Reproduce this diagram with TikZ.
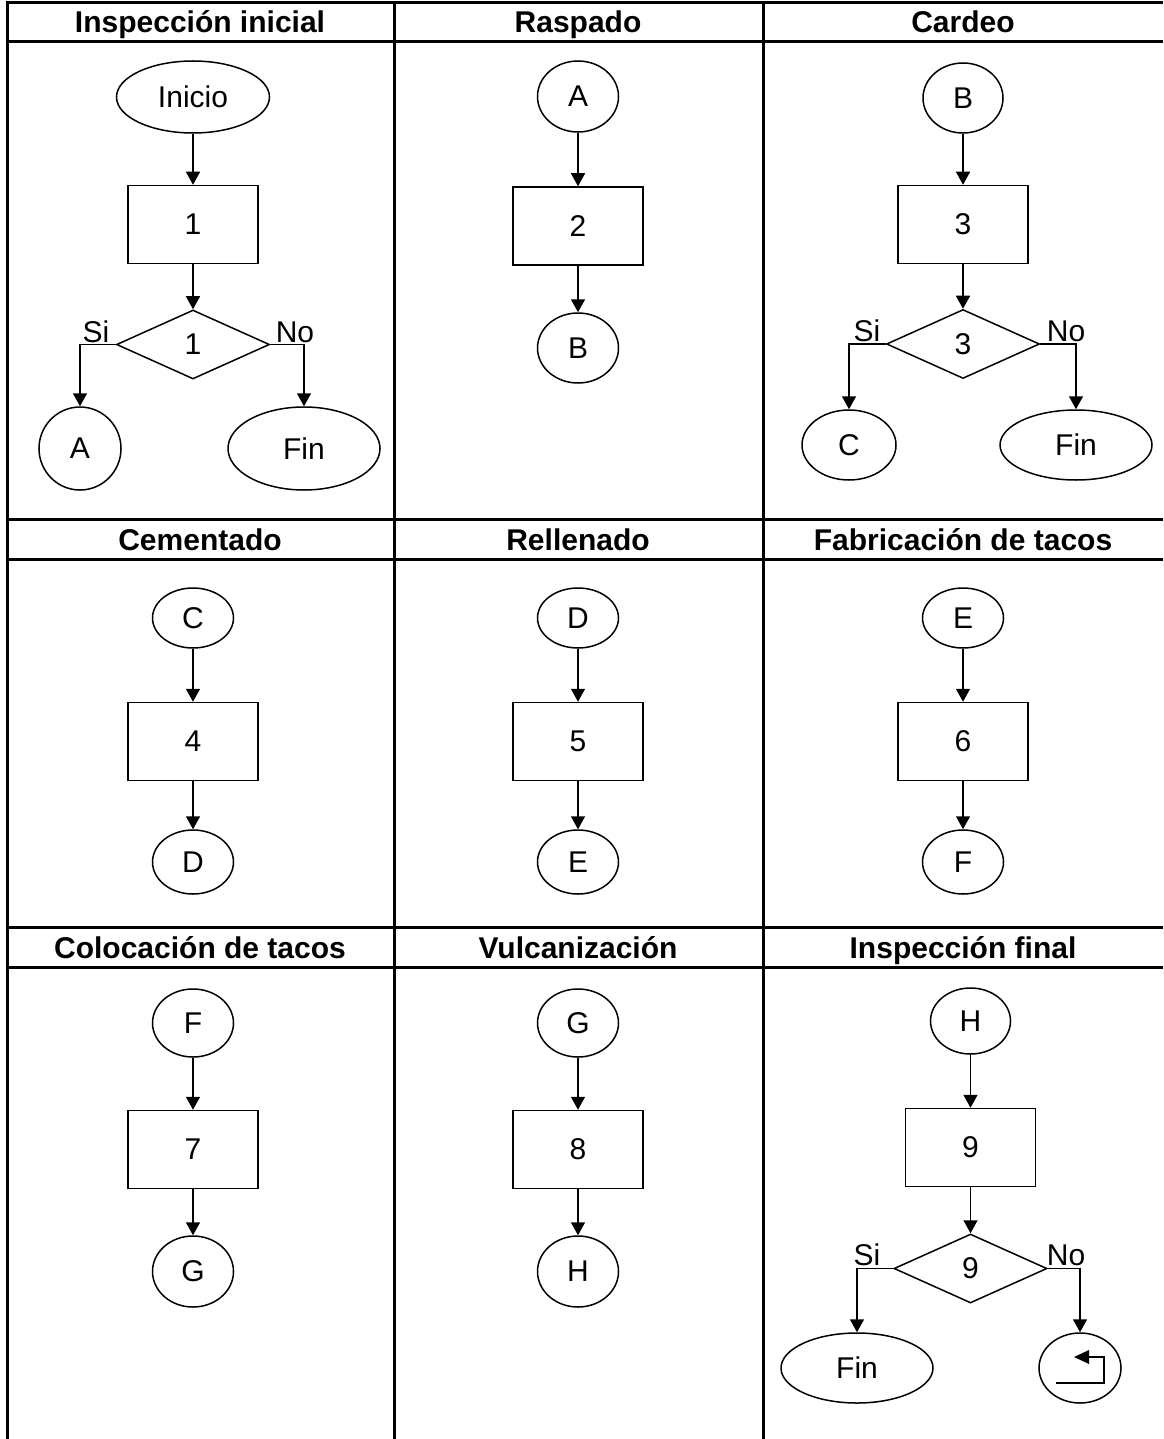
\documentclass[tikz,border=0pt]{standalone}
\usepackage{fontspec}
\setmainfont{Liberation Sans}
\usetikzlibrary{shapes.geometric,arrows.meta}
\begin{document}
\begin{tikzpicture}[x=1pt,y=-1pt,
  shp/.style={draw, line width=1.5pt, inner sep=0pt, font=\fontsize{30}{32}\selectfont},
  ell/.style 2 args={shp, ellipse, minimum width=#1pt, minimum height=#2pt},
  procbox/.style={shp, rectangle, minimum width=130pt, minimum height=78pt},
  dia/.style={shp, diamond, minimum width=153pt, minimum height=69pt},
  arr/.style={line width=1.5pt, -{Triangle[length=13pt,width=14pt]}},
  gridline/.style={line width=3pt},
  hdr/.style={font=\bfseries\fontsize{30}{32}\selectfont, anchor=base, inner sep=0pt},
  lbl/.style={font=\fontsize{30}{32}\selectfont, anchor=base, inner sep=0pt}]
\useasboundingbox (0,0) rectangle (1163,1439);
% grid
\draw[gridline] (7,3) -- (1163,3);
\draw[gridline] (7,42) -- (1163,42);
\draw[gridline] (7,519) -- (1163,519);
\draw[gridline] (7,559) -- (1163,559);
\draw[gridline] (7,927) -- (1163,927);
\draw[gridline] (7,967) -- (1163,967);
\draw[gridline] (7,1.5) -- (7,1439);
\draw[gridline] (394,1.5) -- (394,1439);
\draw[gridline] (763,1.5) -- (763,1439);
% headers
\node[hdr] (h1) at (200,33) {Inspección inicial};
\node[hdr] (h2) at (578,33) {Raspado};
\node[hdr] (h3) at (963,33) {Cardeo};
\node[hdr] (h4) at (200,550) {Cementado};
\node[hdr] (h5) at (578,550) {Rellenado};
\node[hdr] (h6) at (963,550) {Fabricación de tacos};
\node[hdr] (h7) at (200,958) {Colocación de tacos};
\node[hdr] (h8) at (578,958) {Vulcanización};
\node[hdr] (h9) at (963,958) {Inspección final};
% cell 1
\node[ell={153}{72}] (inicio) at (193,97) {Inicio};
\node[procbox] (p1) at (193,224.5) {1};
\node[dia] (d1) at (193,344.5) {1};
\node[ell={82}{83}] (a1) at (80,448.5) {A};
\node[ell={152}{83}] (fin1) at (304,448.5) {Fin};
\draw[arr] (inicio) -- (p1);
\draw[arr] (p1) -- (d1);
\draw[arr] (d1.west) -| (a1);
\draw[arr] (d1.east) -| (fin1);
\node[lbl] (si1) at (96,342) {Si};
\node[lbl] (no1) at (295,342) {No};
% cell 2
\node[ell={81}{71}] (a2) at (578,96.5) {A};
\node[procbox] (p2) at (578,226) {2};
\node[ell={81}{70}] (b2) at (578,348) {B};
\draw[arr] (a2) -- (p2);
\draw[arr] (p2) -- (b2);
% cell 3
\node[ell={80}{70}] (b3) at (963,98) {B};
\node[procbox] (p3) at (963,224.5) {3};
\node[dia] (d3) at (963,344) {3};
\node[ell={94}{70}] (c3) at (849,445) {C};
\node[ell={152}{70}] (fin3) at (1076,445) {Fin};
\draw[arr] (b3) -- (p3);
\draw[arr] (p3) -- (d3);
\draw[arr] (d3.west) -| (c3);
\draw[arr] (d3.east) -| (fin3);
\node[lbl] (si3) at (867,341) {Si};
\node[lbl] (no3) at (1066,341) {No};
% cell 4
\node[ell={81}{60}] (c4) at (193,618) {C};
\node[procbox] (p4) at (193,741.5) {4};
\node[ell={81}{64}] (d4) at (193,862) {D};
\draw[arr] (c4) -- (p4);
\draw[arr] (p4) -- (d4);
% cell 5
\node[ell={81}{60}] (d5) at (578,618) {D};
\node[procbox] (p5) at (578,741.5) {5};
\node[ell={81}{64}] (e5) at (578,862) {E};
\draw[arr] (d5) -- (p5);
\draw[arr] (p5) -- (e5);
% cell 6
\node[ell={81}{60}] (e6) at (963,618) {E};
\node[procbox] (p6) at (963,741.5) {6};
\node[ell={81}{64}] (f6) at (963,862) {F};
\draw[arr] (e6) -- (p6);
\draw[arr] (p6) -- (f6);
% cell 7
\node[ell={81}{68}] (f7) at (193,1023) {F};
\node[procbox] (p7) at (193,1149.5) {7};
\node[ell={81}{71}] (g7) at (193,1271.5) {G};
\draw[arr] (f7) -- (p7);
\draw[arr] (p7) -- (g7);
% cell 8
\node[ell={81}{68}] (g8) at (578,1023) {G};
\node[procbox] (p8) at (578,1149.5) {8};
\node[ell={81}{71}] (h8n) at (578,1271.5) {H};
\draw[arr] (g8) -- (p8);
\draw[arr] (p8) -- (h8n);
% cell 9
\node[ell={80}{66}] (h9n) at (970.5,1021) {H};
\node[procbox] (p9) at (970.5,1147.5) {9};
\node[dia] (d9) at (970.5,1268.5) {9};
\node[ell={152}{70}] (fin9) at (857,1368) {Fin};
\node[ell={82}{70}] (r9) at (1080,1368) {};
\draw[arr] (h9n) -- (p9);
\draw[arr] (p9) -- (d9);
\draw[arr] (d9.west) -| (fin9);
\draw[arr] (d9.east) -| (r9);
\node[lbl] (si9) at (867,1265) {Si};
\node[lbl] (no9) at (1066,1265) {No};
% return symbol
\draw[line width=2.5pt] (1056,1383) -- (1104,1383) -- (1104,1357) -- (1087,1357);
\fill (1074,1357) -- (1089,1350) -- (1089,1364) -- cycle;
\end{tikzpicture}
\end{document}
